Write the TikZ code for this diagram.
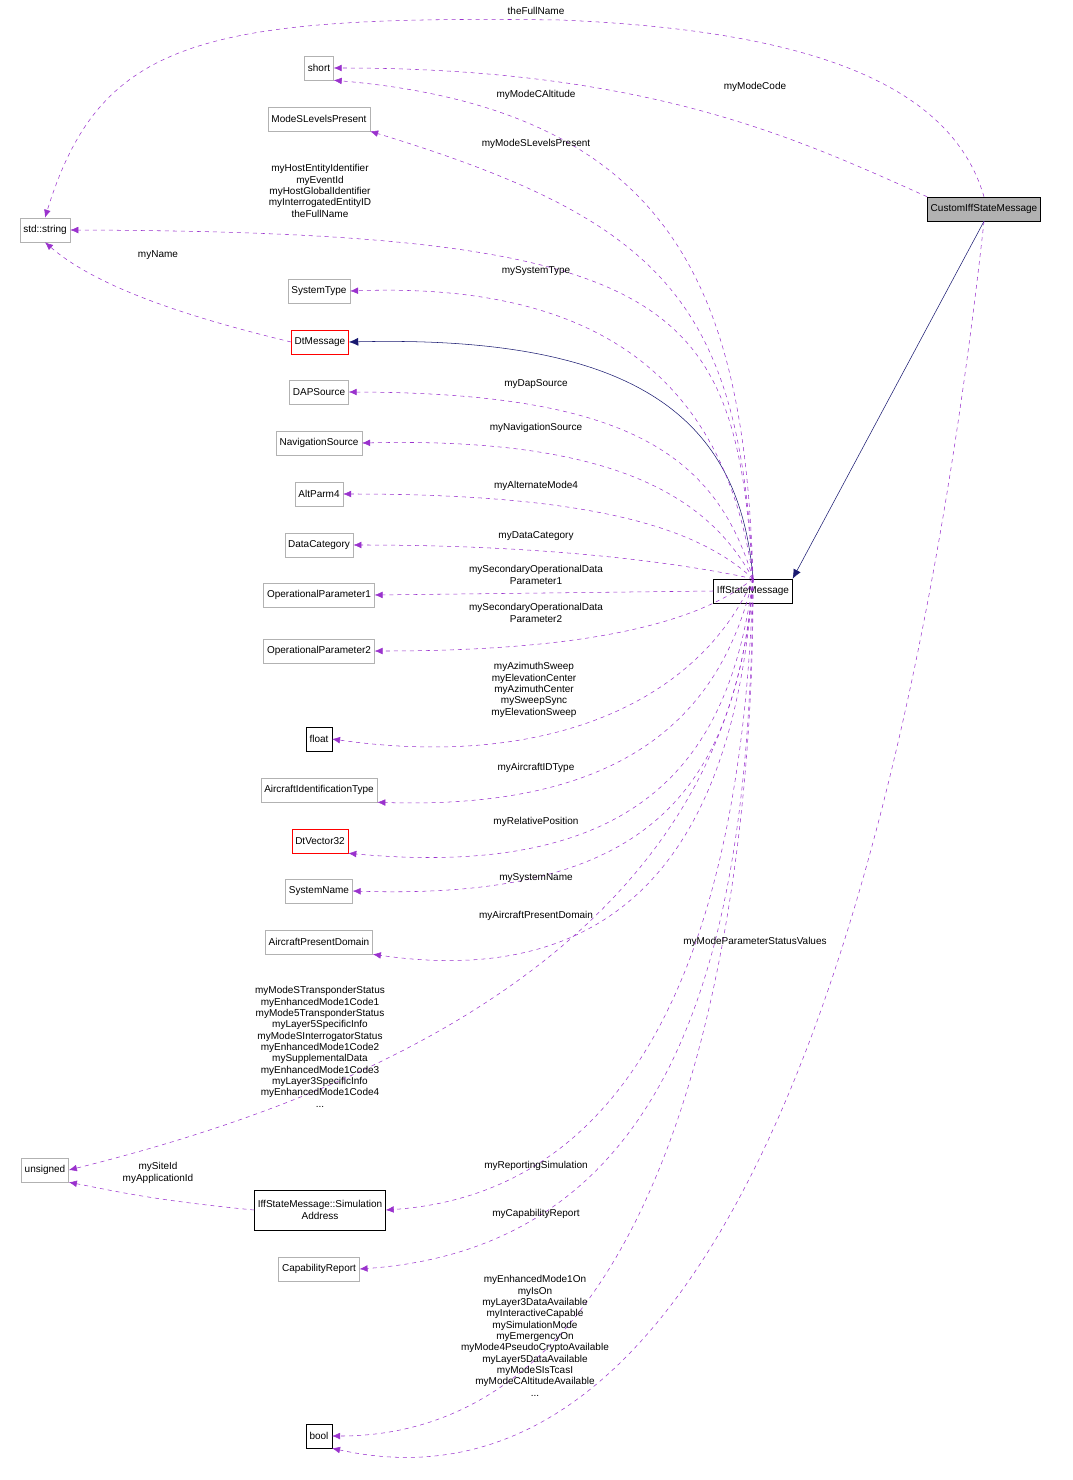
\documentclass[tikz,border=0pt]{standalone}
\usepackage{fontspec}
\setmainfont{Liberation Sans}
\usetikzlibrary{arrows.meta}
\definecolor{dep}{RGB}{154,50,205}
\definecolor{inh}{RGB}{25,25,112}
\begin{document}
\begin{tikzpicture}[x=0.75pt,y=0.75pt,yscale=-1,xscale=1,
  box/.style={draw=black!30,fill=white,inner sep=2.5pt,minimum height=24*0.75pt,font=\fontsize{7.5}{9}\selectfont,align=center},
  bbox/.style={box,draw=black},
  rbox/.style={box,draw=red},
  dep/.style={draw=dep,dashed,-{Latex[length=6pt,width=5pt]}},
  inh/.style={draw=inh,-{Latex[length=7pt,width=6pt]}},
  lbl/.style={font=\fontsize{7.5}{8.5}\selectfont,align=center,inner sep=0pt}]
\useasboundingbox (0,0) rectangle (1072,1480);

%classes
\node[bbox,fill=black!30] (custom) at (984,209) {CustomIffStateMessage};
\node[bbox] (iff) at (753,591) {IffStateMessage};
\node[box] (short) at (319,68) {short};
\node[box] (msl) at (319,119) {ModeSLevelsPresent};
\node[box] (str) at (45,230) {std::string};
\node[box] (st) at (319,291) {SystemType};
\node[rbox] (dtm) at (320,342) {DtMessage};
\node[box] (dap) at (319,392) {DAPSource};
\node[box] (nav) at (319,443) {NavigationSource};
\node[box] (alt) at (319,494) {AltParm4};
\node[box] (dc) at (319,545) {DataCategory};
\node[box] (op1) at (319,595) {OperationalParameter1};
\node[box] (op2) at (319,651) {OperationalParameter2};
\node[bbox] (flt) at (319,739) {float};
\node[box] (ait) at (319,790) {AircraftIdentificationType};
\node[rbox] (vec) at (320,841) {DtVector32};
\node[box] (sn) at (319,891) {SystemName};
\node[box] (apd) at (319,942) {AircraftPresentDomain};
\node[box] (uns) at (45,1170) {unsigned};
\node[bbox,minimum height=40*0.75pt] (sa) at (320,1210) {IffStateMessage::Simulation\\Address};
\node[box] (cap) at (319,1269) {CapabilityReport};
\node[bbox] (bool) at (319,1436) {bool};

%inheritance
\draw[inh] (iff.north) .. controls (740,420) and (640,335) .. (dtm.east);
\draw[inh] (custom.south) -- (iff.north east);

%members of IffStateMessage
\draw[dep] (iff.north) .. controls (745,300) and (680,110) .. (short.south east);
\draw[dep] (iff.north) .. controls (740,300) and (660,220) .. (msl.south east);
\draw[dep] (iff.north) .. controls (735,300) and (680,232) .. (str.east);
\draw[dep] (iff.north) .. controls (725,380) and (600,282) .. (st.east);
\draw[dep] (iff.north) .. controls (715,450) and (620,393) .. (dap.east);
\draw[dep] (iff.north) .. controls (710,500) and (620,437) .. (nav.east);
\draw[dep] (iff.north) .. controls (700,530) and (600,494) .. (alt.east);
\draw[dep] (iff.north) .. controls (690,565) and (560,545) .. (dc.east);
\draw[dep] (iff.west) -- (op1.east);
\draw[dep] (iff.north) .. controls (690,630) and (560,651) .. (op2.east);
\draw[dep] (iff.north) .. controls (700,700) and (550,770) .. (flt.east);
\draw[dep] (iff.north) .. controls (720,720) and (620,810) .. (ait.south east);
\draw[dep] (iff.north) .. controls (730,760) and (640,880) .. (vec.south east);
\draw[dep] (iff.north) .. controls (735,800) and (640,900) .. (sn.east);
\draw[dep] (iff.north) .. controls (735,850) and (620,990) .. (apd.south east);
\draw[dep] (iff.north) .. controls (730,950) and (350,1100) .. (uns.east);
\draw[dep] (iff.north) .. controls (745,850) and (680,1190) .. (sa.east);
\draw[dep] (iff.north) .. controls (750,900) and (700,1245) .. (cap.east);
\draw[dep] (iff.north) .. controls (755,900) and (680,1436) .. (bool.east);

%members of CustomIffStateMessage
\draw[dep] (custom.north) .. controls (950,80) and (800,30) .. (560,20) .. controls (200,15) and (100,40) .. (str.north);
\draw[dep] (custom.north west) .. controls (800,140) and (650,68) .. (short.east);
\draw[dep] (custom.south) .. controls (920,800) and (750,1540) .. (bool.south east);

%other members
\draw[dep] (dtm.west) .. controls (200,320) and (100,290) .. (str.south);
\draw[dep] (sa.west) .. controls (150,1200) and (110,1190) .. (uns.south east);

%labels
\node[lbl] (l1) at (536,11) {theFullName};
\node[lbl] (l2) at (755,87) {myModeCode};
\node[lbl] (l3) at (536,95) {myModeCAltitude};
\node[lbl] (l4) at (536,144) {myModeSLevelsPresent};
\node[lbl] (l5) at (320,191) {myHostEntityIdentifier\\myEventId\\myHostGlobalIdentifier\\myInterrogatedEntityID\\theFullName};
\node[lbl] (l6) at (158,255) {myName};
\node[lbl] (l7) at (536,271) {mySystemType};
\node[lbl] (l8) at (536,384) {myDapSource};
\node[lbl] (l9) at (536,428) {myNavigationSource};
\node[lbl] (l10) at (536,486) {myAlternateMode4};
\node[lbl] (l11) at (536,536) {myDataCategory};
\node[lbl] (l12) at (536,575) {mySecondaryOperationalData\\Parameter1};
\node[lbl] (l13) at (536,613) {mySecondaryOperationalData\\Parameter2};
\node[lbl] (l14) at (534,690) {myAzimuthSweep\\myElevationCenter\\myAzimuthCenter\\mySweepSync\\myElevationSweep};
\node[lbl] (l15) at (536,768) {myAircraftIDType};
\node[lbl] (l16) at (536,822) {myRelativePosition};
\node[lbl] (l17) at (536,878) {mySystemName};
\node[lbl] (l18) at (536,916) {myAircraftPresentDomain};
\node[lbl] (l19) at (755,942) {myModeParameterStatusValues};
\node[lbl] (l20) at (320,1047) {myModeSTransponderStatus\\myEnhancedMode1Code1\\myMode5TransponderStatus\\myLayer5SpecificInfo\\myModeSInterrogatorStatus\\myEnhancedMode1Code2\\mySupplementalData\\myEnhancedMode1Code3\\myLayer3SpecificInfo\\myEnhancedMode1Code4\\...};
\node[lbl] (l21) at (536,1166) {myReportingSimulation};
\node[lbl] (l22) at (158,1173) {mySiteId\\myApplicationId};
\node[lbl] (l23) at (536,1214) {myCapabilityReport};
\node[lbl] (l24) at (535,1336) {myEnhancedMode1On\\myIsOn\\myLayer3DataAvailable\\myInteractiveCapable\\mySimulationMode\\myEmergencyOn\\myMode4PseudoCryptoAvailable\\myLayer5DataAvailable\\myModeSIsTcasI\\myModeCAltitudeAvailable\\...};
\end{tikzpicture}
\end{document}
